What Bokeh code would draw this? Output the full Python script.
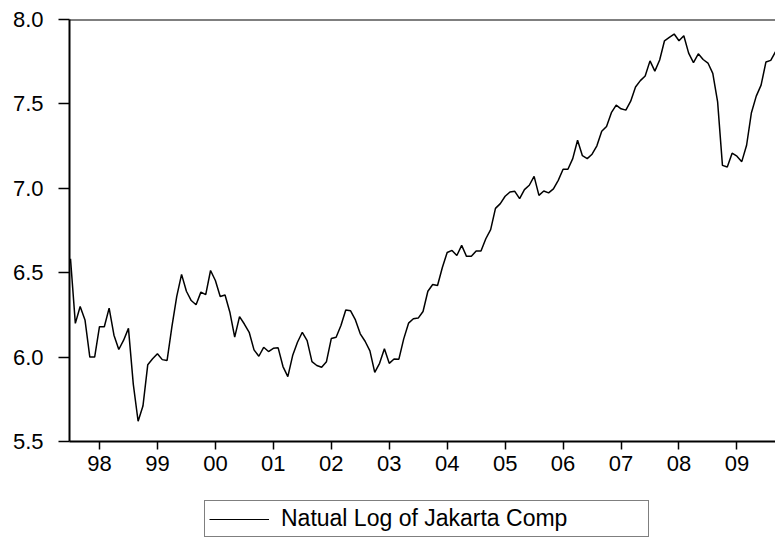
from bokeh.plotting import figure
from bokeh.layouts import column
from bokeh.models import (FixedTicker, PrintfTickFormatter, Legend, LegendItem, Span, Range1d)
from bokeh.embed import file_html
from bokeh.resources import INLINE

# Monthly observations, 1997M07 onward
start_year = 1997
start_month = 7
ln_jkse = [
    6.583, 6.20, 6.30, 6.22, 6.00, 6.00,
    6.18, 6.18, 6.29, 6.13, 6.045, 6.10, 6.17, 5.84, 5.62, 5.71, 5.955, 5.99,
    6.02, 5.985, 5.98, 6.18, 6.36, 6.49, 6.39, 6.335, 6.31, 6.385, 6.37, 6.513,
    6.454, 6.359, 6.368, 6.266, 6.118, 6.24, 6.196, 6.147, 6.043, 6.005, 6.058, 6.033,
    6.052, 6.055, 5.944, 5.884, 6.009, 6.088, 6.147, 6.098, 5.973, 5.95, 5.94, 5.973,
    6.11, 6.118, 6.187, 6.279, 6.274, 6.22, 6.138, 6.094, 6.037, 5.91, 5.963, 6.049,
    5.963, 5.989, 5.988, 6.108, 6.201, 6.227, 6.231, 6.27, 6.39, 6.43, 6.424, 6.531,
    6.62, 6.632, 6.602, 6.662, 6.597, 6.597, 6.628, 6.628, 6.701, 6.755, 6.881, 6.909,
    6.953, 6.978, 6.982, 6.939, 6.992, 7.018, 7.071, 6.958, 6.984, 6.973, 6.997, 7.047,
    7.113, 7.113, 7.176, 7.285, 7.193, 7.176, 7.202, 7.252, 7.338, 7.366, 7.448, 7.493,
    7.471, 7.463, 7.516, 7.60, 7.638, 7.665, 7.755, 7.694, 7.76, 7.874, 7.894, 7.914,
    7.874, 7.904, 7.801, 7.745, 7.797, 7.763, 7.742, 7.681, 7.512, 7.136, 7.126, 7.208,
    7.19, 7.158, 7.255, 7.448, 7.546, 7.611, 7.748, 7.758, 7.809,
]
year_ticks = list(range(1998, 2010))
year_labels = ["98", "99", "00", "01", "02", "03", "04", "05", "06", "07", "08", "09"]
y_ticks = [5.5, 6.0, 6.5, 7.0, 7.5, 8.0]
series_name = "Natual Log of Jakarta Comp"

t = [start_year + (start_month - 1) / 12 + i / 12 for i in range(len(ln_jkse))]

FONT = "Liberation Sans"

# ---- main chart ----
p = figure(width=775, height=495, output_backend="svg", toolbar_location=None,
           x_range=Range1d(1997.4827, 2009.6655), y_range=Range1d(5.5, 8.0),
           min_border_left=69, min_border_right=0, min_border_top=19, min_border_bottom=54)
p.outline_line_color = None
p.grid.visible = False
p.background_fill_color = "white"
p.border_fill_color = "white"

r = p.line(t, ln_jkse, line_color="black", line_width=1.5)

# top frame line
p.add_layout(Span(location=8.0, dimension="width", line_color="black", line_width=2))

xa = p.xaxis[0]
xa.ticker = FixedTicker(ticks=year_ticks)
xa.major_label_overrides = {y: lab for y, lab in zip(year_ticks, year_labels)}
xa.minor_tick_line_color = None
xa.major_tick_in = 0
xa.major_tick_out = 8
xa.major_tick_line_width = 1.5
xa.axis_line_width = 2
xa.major_label_standoff = 6
xa.major_label_text_font = FONT
xa.major_label_text_font_size = "22px"
xa.major_label_text_color = "black"

ya = p.yaxis[0]
ya.ticker = FixedTicker(ticks=y_ticks)
ya.formatter = PrintfTickFormatter(format="%.1f")
ya.minor_tick_line_color = None
ya.major_tick_in = 0
ya.major_tick_out = 11
ya.major_tick_line_width = 1.5
ya.axis_line_width = 2
ya.major_label_standoff = 15
ya.major_label_text_font = FONT
ya.major_label_text_font_size = "22px"
ya.major_label_text_color = "black"

# ---- legend strip under the chart (its frame is aligned with the chart's frame) ----
pl = figure(width=775, height=42, output_backend="svg", toolbar_location=None,
            x_range=Range1d(0, 1), y_range=Range1d(0, 1),
            x_axis_type=None, y_axis_type=None,
            min_border_left=0, min_border_right=0, min_border_top=0, min_border_bottom=0)
pl.outline_line_color = None
pl.grid.visible = False
pl.border_fill_color = "white"
# same series; lies outside this strip's ranges, only supplies the legend key
key = pl.line(t, ln_jkse, line_color="black", line_width=1.2)

legend = Legend(items=[LegendItem(label=series_name, renderers=[key])],
                location=(135, 0), orientation="vertical",
                border_line_color="black", border_line_width=1.5,
                background_fill_color="white", background_fill_alpha=1,
                label_text_font=FONT, label_text_font_size="23px",
                label_text_color="black",
                glyph_width=60, label_standoff=12, label_width=363,
                padding=4, spacing=0, margin=0)
pl.add_layout(legend, "center")

layout = column(p, pl, spacing=0)
open("out.html", "w").write(file_html(layout, INLINE))
